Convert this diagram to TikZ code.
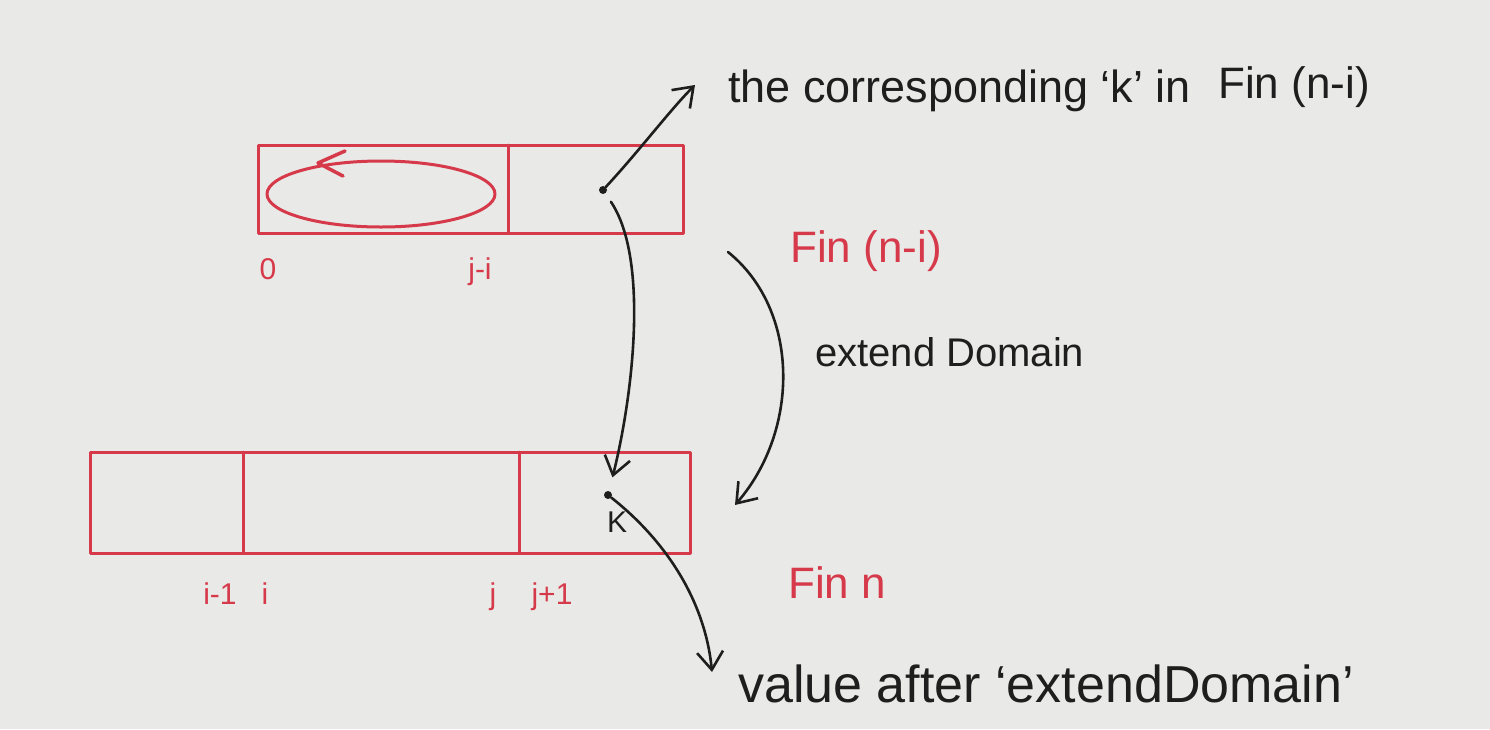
\documentclass[tikz,border=0pt]{standalone}
\usepackage{fontspec}
\setmainfont{Liberation Sans}
\usetikzlibrary{arrows.meta}
\definecolor{paper}{HTML}{E9E9E7}
\definecolor{pen}{HTML}{D63A4A}
\definecolor{ink}{HTML}{1E1E1E}
\begin{document}
\begin{tikzpicture}[x=1pt,y=-1pt,
  redline/.style={draw=pen, line width=3pt, line cap=round, line join=round},
  inkarrow/.style={draw=ink, line width=2.6pt, line cap=round,
    -{Straight Barb[length=18pt,width=26pt,line width=2.6pt]}},
  redlbl/.style={text=pen, font=\fontsize{30}{32}\selectfont, inner sep=0pt},
  redname/.style={text=pen, font=\fontsize{44}{46}\selectfont, inner sep=0pt},
  inklbl/.style={text=ink, font=\fontsize{45}{47}\selectfont, inner sep=0pt},
  dotnode/.style={circle, fill=ink, inner sep=0pt, minimum size=8pt}]
\fill[paper] (0,0) rectangle (1490,729);
\useasboundingbox (0,0) rectangle (1490,729);

% top array Fin (n-i)
\draw[redline] (258,145) rectangle (683,233);
\draw[redline] (508,145) -- (508,233);
\draw[redline] (381,194) ellipse [x radius=114, y radius=33];
\draw[redline, line width=3.5pt] (345,151) -- (318,163) -- (343,176);
\node[redlbl, anchor=base] (zero) at (268,279) {0};
\node[redlbl, anchor=base] (jmi) at (480,279) {j-i};

% bottom array Fin n
\draw[redline] (90,452) rectangle (690,553);
\draw[redline] (243,452) -- (243,553);
\draw[redline] (519,452) -- (519,553);
\node[redlbl, anchor=base] (im1) at (220,604) {i-1};
\node[redlbl, anchor=base] (ii) at (265,604) {i};
\node[redlbl, anchor=base] (jj) at (493,604) {j};
\node[redlbl, anchor=base] (jp1) at (552,604) {j+1};

% points k
\node[dotnode] (kTop) at (603,190) {};
\node[dotnode] (kBot) at (608,495) {};
\node[text=ink, font=\fontsize{30}{32}\selectfont, inner sep=0pt, anchor=base] (klbl) at (617,532) {K};

% labels
\node[redname, anchor=base west] (finTop) at (790,262) {Fin (n-i)};
\node[redname, anchor=base west] (finBot) at (788,598) {Fin n};
\node[inklbl, anchor=base west] (corr) at (728,102) {the corresponding ‘k’ in};
\node[text=ink, font=\fontsize{44}{46}\selectfont, inner sep=0pt, anchor=base west] (corrFin) at (1218,98) {Fin (n-i)};
\node[text=ink, font=\fontsize{40}{42}\selectfont, inner sep=0pt, anchor=base west] (ext) at (815,366) {extend Domain};
\node[text=ink, font=\fontsize{52}{54}\selectfont, inner sep=0pt, anchor=base west] (val) at (738,702) {value after ‘extendDomain’};

% connectors
\coordinate (corrTip) at (695,85);
\coordinate (valTip) at (712,672);
\coordinate (extStart) at (728,252);
\coordinate (extTip) at (735,505);
\draw[inkarrow] (kTop) .. controls (640,150) and (670,110) .. (corrTip);
\draw[inkarrow, shorten <=10pt, shorten >=14pt] (kTop) .. controls (650,260) and (632,400) .. (kBot);
\draw[inkarrow] (kBot) .. controls (665,540) and (705,600) .. (valTip);
\draw[inkarrow] (extStart) .. controls (800,310) and (800,430) .. (extTip);
\end{tikzpicture}
\end{document}
